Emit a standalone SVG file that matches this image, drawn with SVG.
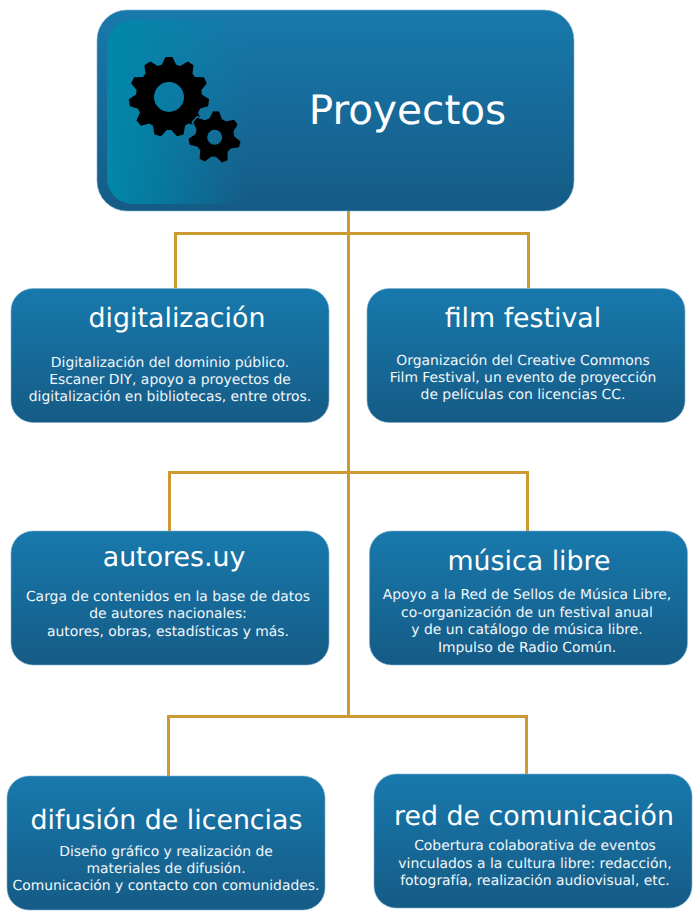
<svg xmlns="http://www.w3.org/2000/svg" width="700" height="920" viewBox="0 0 700 920">
<style>
.box{fill:url(#bg);stroke:#7fb0cc;stroke-width:.6}
text{font-family:"DejaVu Sans",sans-serif;fill:#fff;text-anchor:middle;text-rendering:geometricPrecision}
.h{font-size:26.800px}
.b{font-size:13.900px;fill:#f2f7fa}
.c{fill:none;stroke:#cc9933;stroke-width:3}
</style>
<defs>
<linearGradient id="bg" x1="0" y1="0" x2="0" y2="1"><stop offset="0" stop-color="#1879ac"/><stop offset="1" stop-color="#155b86"/></linearGradient>
<linearGradient id="tl" x1="0" y1="0" x2="1" y2="0"><stop offset="0" stop-color="#0088aa"/><stop offset="1" stop-color="#0088aa" stop-opacity="0"/></linearGradient>
<polygon id="t1" points="-8,30.500 -3.500,40 3.500,40 8,30.500"/>
<polygon id="t2" points="-6.500,18 -3,26 3,26 6.500,18"/>
<g id="small-teeth">
<use href="#t2" transform="rotate(183)"/><use href="#t2" transform="rotate(234.400)"/><use href="#t2" transform="rotate(285.900)"/><use href="#t2" transform="rotate(337.300)"/><use href="#t2" transform="rotate(28.700)"/><use href="#t2" transform="rotate(80.100)"/><use href="#t2" transform="rotate(131.600)"/>
</g>
<mask id="notch" maskUnits="userSpaceOnUse" x="120" y="50" width="130" height="120">
<rect x="120" y="50" width="130" height="120" fill="#fff"/>
<g transform="translate(214.700 137.300)" fill="#000" stroke="#000" stroke-width="3"><circle r="20"/><use href="#small-teeth"/></g>
</mask>
</defs>
<g id="connectors" class="c">
<path class="c" d="M348.500 211V716M175.500 288V233.500H528.500V288M169.500 531V472.500H527.500V531M168.500 776V716.500H526.500V774"/>
</g>
<g id="proyectos">
<rect x="97" y="10" width="477" height="201" rx="30" class="box"/>
<rect x="107" y="20" width="140" height="184" rx="26" fill="url(#tl)"/>
<g mask="url(#notch)">
<g id="gear-big" transform="translate(169 97)" fill="#000">
<circle r="24" fill="none" stroke="#000" stroke-width="18"/>
<use href="#t1" transform="rotate(180)"/><use href="#t1" transform="rotate(212.730)"/><use href="#t1" transform="rotate(245.450)"/><use href="#t1" transform="rotate(278.180)"/><use href="#t1" transform="rotate(310.910)"/><use href="#t1" transform="rotate(343.640)"/><use href="#t1" transform="rotate(16.360)"/><use href="#t1" transform="rotate(49.090)"/><use href="#t1" transform="rotate(81.820)"/><use href="#t1" transform="rotate(114.550)"/><use href="#t1" transform="rotate(147.270)"/>
</g>
</g>
<g id="gear-small" transform="translate(214.700 137.300)" fill="#000">
<circle r="13.500" fill="none" stroke="#000" stroke-width="12"/>
<use href="#small-teeth"/>
</g>
<text x="407.500" y="124" font-size="40.600">Proyectos</text>
</g>
<g id="digitalizacion">
<rect x="11" y="288.500" width="318" height="134" rx="22" class="box"/>
<text x="177" y="327" class="h">digitalización</text>
<text x="170" y="367" class="b">Digitalización del dominio público.</text>
<text x="170" y="384" class="b">Escaner DIY, apoyo a proyectos de</text>
<text x="170" y="401" class="b">digitalización en bibliotecas, entre otros.</text>
</g>
<g id="film-festival">
<rect x="367" y="288.500" width="318" height="134" rx="22" class="box"/>
<text x="523" y="327" class="h">film festival</text>
<text x="523" y="365" class="b">Organización del Creative Commons</text>
<text x="523" y="382" class="b">Film Festival, un evento de proyección</text>
<text x="523" y="399" class="b">de películas con licencias CC.</text>
</g>
<g id="autores">
<rect x="11" y="531" width="318" height="134" rx="22" class="box"/>
<text x="174" y="566" class="h">autores.uy</text>
<text x="168" y="601" class="b">Carga de contenidos en la base de datos</text>
<text x="168" y="618" class="b">de autores nacionales:</text>
<text x="168" y="636" class="b">autores, obras, estadísticas y más.</text>
</g>
<g id="musica-libre">
<rect x="369.500" y="531" width="318" height="134" rx="22" class="box"/>
<text x="529" y="570" class="h">música libre</text>
<text x="527" y="599" class="b">Apoyo a la Red de Sellos de Música Libre,</text>
<text x="527" y="617" class="b">co-organización de un festival anual</text>
<text x="527" y="634" class="b">y de un catálogo de música libre.</text>
<text x="527" y="652" class="b">Impulso de Radio Común.</text>
</g>
<g id="difusion">
<rect x="7" y="776" width="318" height="134" rx="22" class="box"/>
<text x="166.500" y="829" class="h">difusión de licencias</text>
<text x="166" y="856" class="b">Diseño gráfico y realización de</text>
<text x="166" y="873" class="b">materiales de difusión.</text>
<text x="166" y="890" class="b">Comunicación y contacto con comunidades.</text>
</g>
<g id="red-comunicacion">
<rect x="374" y="774" width="318" height="134" rx="22" class="box"/>
<text x="534" y="825" class="h">red de comunicación</text>
<text x="535" y="850" class="b">Cobertura colaborativa de eventos</text>
<text x="535" y="868" class="b">vinculados a la cultura libre: redacción,</text>
<text x="535" y="885" class="b">fotografía, realización audiovisual, etc.</text>
</g>
</svg>
